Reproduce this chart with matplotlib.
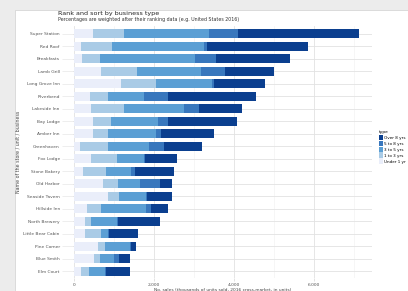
import numpy as np
import matplotlib
matplotlib.use("Agg")
import matplotlib.pyplot as plt
from matplotlib.patches import Rectangle

# data (top bar first)
stores = ["Super Station", "Red Roof", "Breakfasts", "Lamb Grill", "Long Grove Inn",
          "Riverbend", "Lakeside Inn", "Bay Lodge", "Amber Inn", "Greenhaven",
          "Fox Lodge", "Stone Bakery", "Old Harbor", "Seaside Tavern", "Hillside Inn",
          "North Brewery", "Little Bear Cabin", "Pine Corner", "Blue Smith", "Elm Court"]
types = ["Over 8 yrs", "5 to 8 yrs", "3 to 5 yrs", "1 to 3 yrs", "Under 1 yr"]
under_1 = [475, 175, 200, 675, 1175, 400, 425, 475, 475, 150,
           425, 225, 725, 850, 325, 275, 275, 600, 500, 175]
y1_3 = [775, 775, 450, 900, 875, 450, 825, 450, 375, 700,
        650, 575, 375, 275, 350, 150, 400, 175, 150, 200]
y3_5 = [2125, 2300, 2375, 1600, 1400, 900, 1500, 1175, 1200, 1025,
        675, 625, 550, 675, 1125, 650, 175, 625, 350, 400]
y5_8 = [725, 75, 525, 600, 50, 600, 375, 250, 125, 375,
        25, 100, 500, 25, 125, 25, 25, 25, 125, 25]
over_8 = [3025, 2525, 1850, 1225, 1275, 2200, 1075, 1725, 1325, 950,
          800, 975, 300, 625, 425, 1050, 725, 125, 275, 600]

series = [under_1, y1_3, y3_5, y5_8, over_8]
colors = ['#eaeefa', '#a9cbe6', '#5b9fd4', '#3877bd', '#0b3f8f']
labels = types[::-1]

fig = plt.figure(figsize=(4.08, 2.91), dpi=100, facecolor='#ececec')
fig.patches.append(Rectangle((15/408, 0), 1, 1 - 10/291, transform=fig.transFigure,
                             facecolor='white', edgecolor='#d0d0d0', lw=0.5, zorder=-5))

ax = fig.add_axes([73/408, 1 - 278/291, (372 - 73)/408, (278 - 26)/291])
ax.set_facecolor('white')

y = np.arange(len(stores))
left = np.zeros(len(stores))
for vals, c, lab in zip(series, colors, labels):
    ax.barh(y, vals, left=left, height=0.72, color=c, label=lab, zorder=2)
    left += np.array(vals)

ax.set_yticks(y)
ax.set_yticklabels(stores, fontsize=3.2, color='#555555')
ax.set_ylim(len(stores) - 0.45, -0.6)
ax.set_xlim(-30, 7445)
ax.set_xticks([0, 2000, 4000, 6000])
ax.set_xticklabels(['0', '2,000', '4,000', '6,000'], fontsize=3.2, color='#555555')
ax.set_xticks([1000, 3000, 5000, 7000], minor=True)
ax.grid(True, which='major', color='#e2e2e2', lw=0.6, zorder=0)
ax.grid(True, which='minor', axis='x', color='#efefef', lw=0.4, zorder=0)
ax.set_axisbelow(True)
ax.tick_params(axis='x', length=2, width=0.4, color='#cccccc', pad=1.5)
ax.tick_params(axis='y', length=8, width=0.4, color='#e2e2e2', pad=1.5)
ax.tick_params(which='minor', length=0)
for s in ax.spines.values():
    s.set_visible(False)

ax.set_xlabel("No. sales (thousands of units sold, 2016 cross-market, in units)",
              fontsize=3.2, color='#444444', labelpad=1)
ax.set_ylabel("Name of the store / unit / business", fontsize=3.4, color='#444444', labelpad=2)

fig.text(58/408, 1 - 13/291, "Rank and sort by business type", fontsize=4.6,
         color='#222222', va='center')
fig.text(58/408, 1 - 20/291,
         "Percentages are weighted after their ranking data (e.g. United States 2016)",
         fontsize=3.4, color='#333333', va='center')

h, l = ax.get_legend_handles_labels()
leg = fig.legend(h[::-1], l[::-1], loc='upper left', bbox_to_anchor=(376/408, 1 - 127/291),
                 frameon=False, fontsize=3, title='type', title_fontsize=3.2,
                 handlelength=1.0, handleheight=1.6, labelspacing=0.15,
                 handletextpad=0.3, borderpad=0.2)
leg._legend_box.align = 'left'

fig.savefig('out.png', dpi=100, facecolor=fig.get_facecolor())
